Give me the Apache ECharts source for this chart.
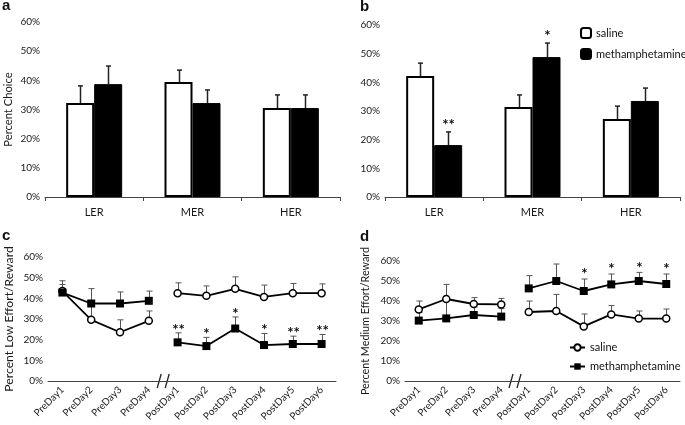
<!DOCTYPE html>
<html>
<head>
<meta charset="utf-8">
<script src="https://cdn.jsdelivr.net/npm/echarts@6/dist/echarts.min.js"></script>
<style>
html,body{margin:0;padding:0;background:#fff;}
#c{width:685px;height:425px;}
</style>
</head>
<body>
<div id="c"></div>
<script>
// ---- data ----
var barCats = ['LER', 'MER', 'HER'];
var aSaline = [32.2, 39.4, 30.5];
var aSalineErr = [5.9, 4.1, 4.5];
var aMeth = [38.7, 32.2, 30.5];
var aMethErr = [6.2, 4.5, 4.5];

var bSaline = [42.2, 31.4, 27.2];
var bSalineErr = [4.5, 4.2, 4.5];
var bMeth = [18.1, 48.8, 33.5];
var bMethErr = [4.6, 4.9, 4.5];
var bMethStars = ['**', '*', ''];

var days = ['PreDay1', 'PreDay2', 'PreDay3', 'PreDay4', 'PostDay1', 'PostDay2', 'PostDay3', 'PostDay4', 'PostDay5', 'PostDay6'];
var cSaline = [43.5, 29.6, 23.6, 29.1, 42.5, 41.2, 44.6, 40.7, 42.5, 42.5];
var cSalineErr = [5.0, 8.0, 6.0, 4.8, 5.0, 4.8, 5.8, 5.7, 4.7, 4.5];
var cMeth = [42.8, 37.5, 37.5, 38.8, 18.7, 16.9, 25.4, 17.4, 17.9, 17.9];
var cMethErr = [3.9, 7.2, 5.6, 4.7, 4.6, 4.2, 5.6, 5.6, 3.8, 4.6];
var cMethStars = ['', '', '', '', '**', '*', '*', '*', '**', '**'];

var dSaline = [35.8, 41.0, 38.5, 38.3, 34.5, 35.0, 27.3, 33.3, 31.2, 31.2];
var dSalineErr = [4.2, 7.3, 3.2, 3.0, 5.5, 8.3, 6.2, 4.4, 3.8, 4.8];
var dMeth = [30.2, 31.3, 33.0, 32.2, 46.3, 50.0, 45.0, 48.3, 50.0, 48.5];
var dMethErr = [4.0, 9.0, 4.0, 4.0, 6.4, 8.5, 6.0, 5.2, 4.3, 5.0];
var dMethStars = ['', '', '', '', '', '', '*', '*', '*', '*'];

var yTicks = {min: 0, max: 60, interval: 10};
var preCount = 4;

// ---- helpers ----
var FONT = 'Lato';
var TXT = '#1a1a1a';
function errData(vals, errs) {
  return vals.map(function (v, i) { return [i, v, errs[i]]; });
}
function errSeries(gridIdx, vals, errs, offset, capW, color, lw, stars, starGap) {
  return {
    type: 'custom',
    xAxisIndex: gridIdx, yAxisIndex: gridIdx,
    z: 1,
    silent: true,
    data: errData(vals, errs),
    renderItem: function (params, api) {
      var x = api.value(0), v = api.value(1), e = api.value(2);
      var p0 = api.coord([x, v]);
      var p1 = api.coord([x, v + e]);
      var px = Math.round(p0[0] + offset) + 0.5;
      var children = [
        {type: 'line', shape: {x1: px, y1: p0[1], x2: px, y2: p1[1]}, style: {stroke: color, lineWidth: lw}},
        {type: 'line', shape: {x1: px - capW / 2, y1: p1[1], x2: px + capW / 2, y2: p1[1]}, style: {stroke: color, lineWidth: lw}}
      ];
      var s = stars ? stars[params.dataIndex] : '';
      if (s) {
        children.push({type: 'text', x: px, y: p1[1] - starGap,
          style: {text: s, fill: '#111', font: 'bold 15px ' + FONT, align: 'center', verticalAlign: 'middle'}});
      }
      return {type: 'group', children: children};
    }
  };
}
function half(arr, pre) {
  return arr.map(function (v, i) { return ((i < preCount) === pre) ? v : '-'; });
}
function lineSeries(gridIdx, name, arr, pre, isSaline) {
  return {
    type: 'line', name: name,
    xAxisIndex: gridIdx, yAxisIndex: gridIdx,
    data: half(arr, pre),
    z: 3,
    symbol: isSaline ? 'circle' : 'rect',
    symbolSize: isSaline ? 7 : 8,
    showAllSymbol: true,
    lineStyle: {color: '#000', width: 1.8},
    itemStyle: isSaline ? {color: '#fff', borderColor: '#000', borderWidth: 1.5} : {color: '#000', borderColor: '#000', borderWidth: 0},
    emphasis: {disabled: true},
    connectNulls: false
  };
}
function yAxisCfg(gridIdx, name, gap, nameSize) {
  return {
    type: 'value', gridIndex: gridIdx,
    min: yTicks.min, max: yTicks.max, interval: yTicks.interval,
    axisLine: {show: false}, axisTick: {show: false}, splitLine: {show: false},
    axisLabel: {formatter: '{value}%', color: TXT, fontSize: 10, fontFamily: FONT, margin: 5},
    name: name, nameLocation: 'middle', nameGap: gap,
    nameTextStyle: {color: TXT, fontSize: nameSize, fontFamily: FONT}
  };
}
function barXAxis(gridIdx) {
  return {
    type: 'category', gridIndex: gridIdx, data: barCats,
    axisLine: {lineStyle: {color: '#444', width: 1}},
    axisTick: {show: true, length: 4, lineStyle: {color: '#444'}},
    axisLabel: {color: TXT, fontSize: 11, fontFamily: FONT, margin: 10}
  };
}
function dayXAxis(gridIdx) {
  return {
    type: 'category', gridIndex: gridIdx, data: days,
    axisLine: {lineStyle: {color: '#444', width: 1}},
    axisTick: {show: false},
    axisLabel: {color: TXT, fontSize: 10, fontFamily: FONT, rotate: 45, margin: 7, interval: 0}
  };
}
var salineBarStyle = {color: '#fff', borderColor: '#000', borderWidth: 2};
var methBarStyle = {color: '#000', borderColor: '#000', borderWidth: 1};

function barSeries(gridIdx, name, vals, style) {
  return {
    type: 'bar', name: name, xAxisIndex: gridIdx, yAxisIndex: gridIdx,
    data: vals, barWidth: 28, barGap: '0%', itemStyle: style, z: 2,
    emphasis: {disabled: true}
  };
}

var chart = echarts.init(document.getElementById('c'), null, {renderer: 'canvas'});
var option = {
  animation: false,
  backgroundColor: '#fff',
  textStyle: {fontFamily: FONT},
  grid: [
    {left: 45, top: 22, width: 295, height: 175},
    {left: 385, top: 25, width: 295, height: 172},
    {left: 48, top: 257, width: 288, height: 124},
    {left: 405, top: 261, width: 275, height: 120}
  ],
  xAxis: [barXAxis(0), barXAxis(1), dayXAxis(2), dayXAxis(3)],
  yAxis: [
    yAxisCfg(0, 'Percent Choice', 31, 11.2),
    yAxisCfg(1, '', 30, 11),
    yAxisCfg(2, 'Percent Low Effort/Reward', 33, 12.2),
    yAxisCfg(3, 'Percent Medium Effort/Reward', 34, 10.8)
  ],
  legend: [
    {
      data: ['saline', 'methamphetamine'], orient: 'vertical', left: 575, top: 22,
      itemWidth: 10, itemHeight: 10, itemGap: 9, selectedMode: false,
      textStyle: {fontSize: 11, color: '#111', fontFamily: FONT}
    },
    {
      data: ['saline-line', 'methamphetamine-line'], orient: 'vertical', left: 564, top: 337,
      itemWidth: 15, itemHeight: 8, itemGap: 8, selectedMode: false,
      formatter: function (n) { return n.replace('-line', ''); },
      textStyle: {fontSize: 11, color: '#111', fontFamily: FONT}
    }
  ],
  series: [
    barSeries(0, 'saline', aSaline, salineBarStyle),
    barSeries(0, 'methamphetamine', aMeth, methBarStyle),
    errSeries(0, aSaline, aSalineErr, -14, 5, '#222', 1.5, null, 0),
    errSeries(0, aMeth, aMethErr, 14, 5, '#222', 1.5, null, 0),
    barSeries(1, 'saline', bSaline, salineBarStyle),
    barSeries(1, 'methamphetamine', bMeth, methBarStyle),
    errSeries(1, bSaline, bSalineErr, -14, 5, '#222', 1.5, null, 0),
    errSeries(1, bMeth, bMethErr, 14, 5, '#222', 1.5, bMethStars, 7),

    lineSeries(2, 'saline-line', cSaline, true, true),
    lineSeries(2, 'saline-line', cSaline, false, true),
    lineSeries(2, 'methamphetamine-line', cMeth, true, false),
    lineSeries(2, 'methamphetamine-line', cMeth, false, false),
    errSeries(2, cSaline, cSalineErr, 0, 6, '#555', 1, null, 0),
    errSeries(2, cMeth, cMethErr, 0, 6, '#555', 1, cMethStars, 3),

    lineSeries(3, 'saline-line', dSaline, true, true),
    lineSeries(3, 'saline-line', dSaline, false, true),
    lineSeries(3, 'methamphetamine-line', dMeth, true, false),
    lineSeries(3, 'methamphetamine-line', dMeth, false, false),
    errSeries(3, dSaline, dSalineErr, 0, 6, '#555', 1, null, 0),
    errSeries(3, dMeth, dMethErr, 0, 6, '#555', 1, dMethStars, 4.5)
  ]
};
chart.setOption(option);

// panel letters and axis breaks
function breakMark(gridIdx) {
  var a = chart.convertToPixel({xAxisIndex: gridIdx, yAxisIndex: gridIdx}, [preCount - 1, 0]);
  var b = chart.convertToPixel({xAxisIndex: gridIdx, yAxisIndex: gridIdx}, [preCount, 0]);
  var x = (a[0] + b[0]) / 2, y = a[1];
  return {
    type: 'group', x: x, y: y, z: 10,
    children: [
      {type: 'rect', shape: {x: -2.5, y: -2, width: 5, height: 4}, style: {fill: '#fff'}},
      {type: 'line', shape: {x1: -6, y1: 7, x2: -2, y2: -7}, style: {stroke: '#222', lineWidth: 1.3}},
      {type: 'line', shape: {x1: 2, y1: 7, x2: 6, y2: -7}, style: {stroke: '#222', lineWidth: 1.3}}
    ]
  };
}
function letter(t, x, y) {
  return {type: 'text', x: x, y: y, style: {text: t, font: 'bold 15px "Liberation Sans"', fill: '#111'}};
}
chart.setOption({
  graphic: [
    letter('a', 2, -2),
    letter('b', 360, -1),
    letter('c', 2, 228),
    letter('d', 360, 229),
    breakMark(2),
    breakMark(3)
  ]
});
</script>
</body>
</html>
